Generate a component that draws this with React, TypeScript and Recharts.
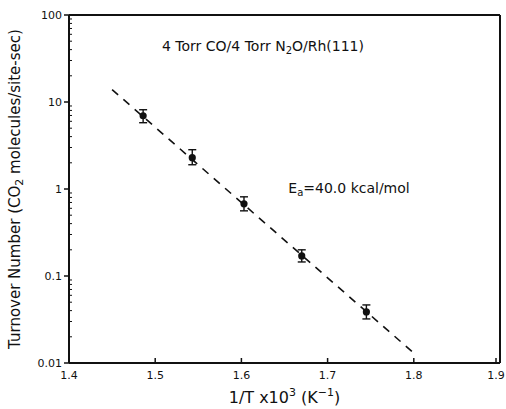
import React from "react";
import {
  ComposedChart,
  Scatter,
  ErrorBar,
  XAxis,
  YAxis,
  ZAxis,
  ReferenceLine,
} from "recharts";

// 1/T x10^3 (K^-1)
const invTemp = [1.486, 1.543, 1.603, 1.67, 1.745];
// turnover number, CO2 molecules/site-sec
const turnover = [6.95, 2.29, 0.676, 0.17, 0.0386];
const errLow = [1.17, 0.39, 0.115, 0.025, 0.0065];
const errHigh = [1.2, 0.54, 0.137, 0.03, 0.0079];

// dashed Arrhenius fit, Ea = 40.0 kcal/mol
const fitX = [1.45, 1.8];
const fitY = [13.9, 0.013];

const xTicks = [1.4, 1.5, 1.6, 1.7, 1.8, 1.9];
const yMajorTicks = [0.01, 0.1, 1, 10, 100];
const yMinorTicks = [
  0.02, 0.03, 0.04, 0.05, 0.06, 0.07, 0.08, 0.09,
  0.2, 0.3, 0.4, 0.5, 0.6, 0.7, 0.8, 0.9,
  2, 3, 4, 5, 6, 7, 8, 9,
  20, 30, 40, 50, 60, 70, 80, 90,
];
const yTicks = [...yMajorTicks, ...yMinorTicks].sort((a, b) => a - b);

const points = invTemp.map((x, i) => ({
  x,
  y: turnover[i],
  err: [errLow[i], errHigh[i]],
}));
const fitLine = fitX.map((x, i) => ({ x, y: fitY[i] }));

const FONT = "DejaVu Sans";
const INK = "#111";

const Dot = (props: any) => {
  const { cx, cy } = props;
  if (cx == null || cy == null) return <g />;
  return <circle cx={cx} cy={cy} r={3.6} fill={INK} />;
};

const NoShape = () => <g />;

// x ticks: short mark inside the frame, label below
const XTick = (props: any) => {
  const { x, y, payload } = props;
  return (
    <g>
      <line x1={x} x2={x} y1={y} y2={y - 5} stroke={INK} strokeWidth={1.5} />
      <text
        x={x}
        y={y + 8}
        dy="0.71em"
        textAnchor="middle"
        fontFamily={FONT}
        fontSize={11}
        fill={INK}
      >
        {Number(payload.value).toFixed(1)}
      </text>
    </g>
  );
};

// y ticks: decades get an outer mark and a label, minor ones a short inner mark
const YTick = (props: any) => {
  const { x, y, payload } = props;
  const v = Number(payload.value);
  const major = yMajorTicks.includes(v);
  if (!major) {
    return <line x1={x} x2={x + 3} y1={y} y2={y} stroke={INK} strokeWidth={1} />;
  }
  return (
    <g>
      <line x1={x - 5} x2={x} y1={y} y2={y} stroke={INK} strokeWidth={1.5} />
      <text
        x={x - 7}
        y={y}
        dy="0.35em"
        textAnchor="end"
        fontFamily={FONT}
        fontSize={11}
        fill={INK}
      >
        {String(v)}
      </text>
    </g>
  );
};

const YTitle = (props: any) => {
  const vb = props.viewBox || {};
  const cx = 15;
  const cy = (vb.y ?? 15) + (vb.height ?? 348) / 2;
  return (
    <text
      x={cx}
      y={cy}
      transform={`rotate(-90 ${cx} ${cy})`}
      textAnchor="middle"
      dominantBaseline="central"
      fontFamily={FONT}
      fontSize={15}
      fill={INK}
    >
      <tspan>Turnover Number (CO</tspan>
      <tspan dy={4} fontSize={11}>2</tspan>
      <tspan dy={-4}> molecules/site-sec)</tspan>
    </text>
  );
};

const XTitle = (props: any) => {
  const vb = props.viewBox || {};
  const cx = (vb.x ?? 69) + (vb.width ?? 431) / 2;
  return (
    <text
      x={cx}
      y={403}
      textAnchor="middle"
      fontFamily={FONT}
      fontSize={16}
      fill={INK}
    >
      <tspan>1/T x10</tspan>
      <tspan dy={-7} fontSize={11}>3</tspan>
      <tspan dy={7}> (K</tspan>
      <tspan dy={-7} fontSize={11}>−1</tspan>
      <tspan dy={7}>)</tspan>
    </text>
  );
};

export default function App() {
  return (
    <div style={{ position: "absolute", left: 0, top: 0, background: "#fff" }}>
      <ComposedChart
        width={506}
        height={409}
        margin={{ top: 15, right: 6, left: 19, bottom: 6 }}
      >
        <XAxis
          type="number"
          dataKey="x"
          domain={[1.4, 1.9]}
          ticks={xTicks}
          height={40}
          axisLine={false}
          tickLine={false}
          tickSize={0}
          tickMargin={0}
          tick={XTick}
          allowDataOverflow
          label={<XTitle />}
        />
        <YAxis
          type="number"
          dataKey="y"
          scale="log"
          domain={[0.01, 100]}
          ticks={yTicks}
          interval={0}
          width={50}
          axisLine={false}
          tickLine={false}
          tickSize={0}
          tickMargin={0}
          tick={YTick}
          allowDataOverflow
          label={<YTitle />}
        />
        <ZAxis range={[40, 40]} />
        {/* plot frame */}
        <ReferenceLine x={1.4} stroke={INK} strokeWidth={2} />
        <ReferenceLine x={1.9} stroke={INK} strokeWidth={2} />
        <ReferenceLine y={0.01} stroke={INK} strokeWidth={2} />
        <ReferenceLine y={100} stroke={INK} strokeWidth={2} />
        <Scatter
          data={fitLine}
          line={{ stroke: INK, strokeWidth: 1.6, strokeDasharray: "8 7" }}
          shape={NoShape}
          isAnimationActive={false}
        />
        <Scatter data={points} shape={Dot} isAnimationActive={false}>
          <ErrorBar
            dataKey="err"
            direction="y"
            width={4}
            stroke={INK}
            strokeWidth={1.4}
            isAnimationActive={false}
          />
        </Scatter>
        <text
          x={263}
          y={51}
          textAnchor="middle"
          fontFamily={FONT}
          fontSize={14}
          fill={INK}
        >
          <tspan>4 Torr CO/4 Torr N</tspan>
          <tspan dy={3} fontSize={10}>2</tspan>
          <tspan dy={-3}>O/Rh(111)</tspan>
        </text>
        <text
          x={349}
          y={193}
          textAnchor="middle"
          fontFamily={FONT}
          fontSize={14}
          fill={INK}
        >
          <tspan>E</tspan>
          <tspan dy={3} fontSize={10}>a</tspan>
          <tspan dy={-3}>=40.0 kcal/mol</tspan>
        </text>
      </ComposedChart>
    </div>
  );
}
